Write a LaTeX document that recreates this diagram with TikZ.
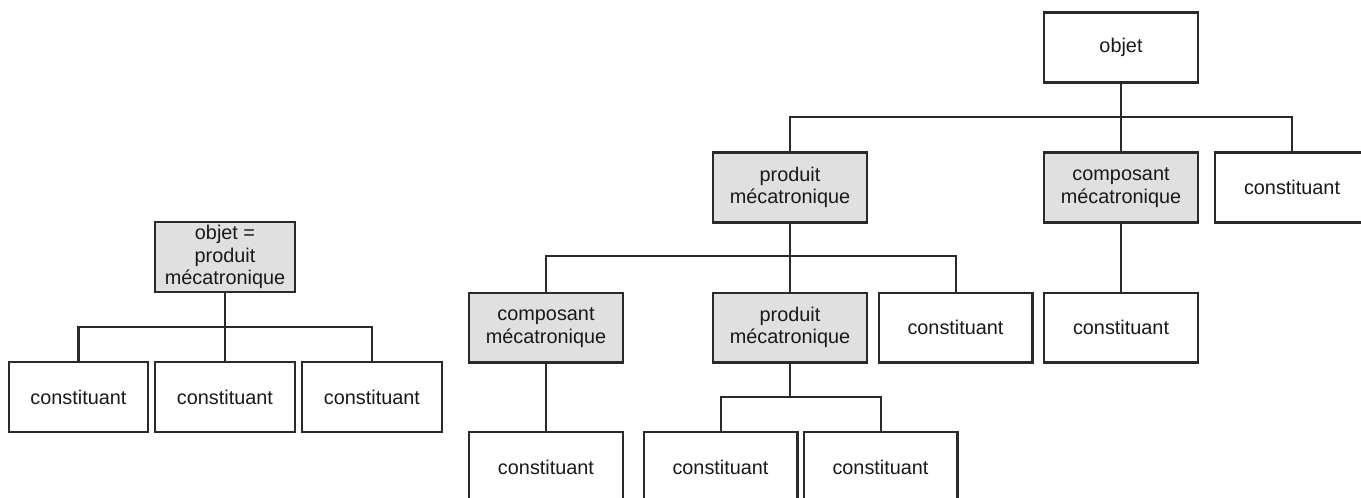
\documentclass[tikz,border=0pt]{standalone}
\usepackage{fontspec}
\setmainfont{Liberation Sans}
\usepackage{tikz}
\usetikzlibrary{positioning}
\usepackage{xcolor}
\definecolor{boxgrey}{HTML}{E0E0E0}
\definecolor{linegrey}{HTML}{2A2A2A}

\begin{document}
\begin{tikzpicture}[x=0.02cm,y=-0.02cm,
  box/.style={draw=linegrey,line width=1.15pt,fill=white,minimum width=3.08cm,minimum height=1.4cm,align=center,inner sep=2pt,text=black!90,font=\fontsize{11.3}{12.9}\selectfont},
  grey/.style={box,fill=boxgrey},
  small/.style={minimum width=2.8cm},
  link/.style={draw=linegrey,line width=1.15pt}]
\clip (0,0) rectangle (1361,497);
% left tree
\node[grey,small] (objL) at (225,257) {objet =\\produit\\mécatronique};
\node[box,small] (kL1) at (78.5,397) {constituant};
\node[box,small] (kL2) at (225,397) {constituant};
\node[box,small] (kL3) at (372,397) {constituant};
\coordinate (jL) at (225,327);
\draw[link] (objL.south) -- (kL2.north);
\draw[link] (kL1.north) |- (jL) -| (kL3.north);
% right tree
\node[box] (obj) at (1121,47.5) {objet};
\node[grey] (prod) at (790,187.5) {produit\\mécatronique};
\node[grey] (comp) at (1121,187.5) {composant\\mécatronique};
\node[box] (k1) at (1292,187.5) {constituant};
\coordinate (j1) at (1121,117);
\draw[link] (obj.south) -- (comp.north);
\draw[link] (prod.north) |- (j1) -| (k1.north);
\node[grey] (comp2) at (546,327.5) {composant\\mécatronique};
\node[grey] (prod2) at (790,327.5) {produit\\mécatronique};
\node[box] (k2) at (955.5,327.5) {constituant};
\node[box] (k3) at (1121,327.5) {constituant};
\coordinate (j2) at (790,256);
\draw[link] (prod.south) -- (prod2.north);
\draw[link] (comp2.north) |- (j2) -| (k2.north);
\draw[link] (comp.south) -- (k3.north);
\node[box] (k4) at (546,467) {constituant};
\node[box] (k5) at (720.5,467) {constituant};
\node[box] (k6) at (880.5,467) {constituant};
\coordinate (j3) at (790,397);
\draw[link] (comp2.south) -- (k4.north);
\draw[link] (prod2.south) -- (j3);
\draw[link] (k5.north) |- (j3) -| (k6.north);
\end{tikzpicture}
\end{document}
